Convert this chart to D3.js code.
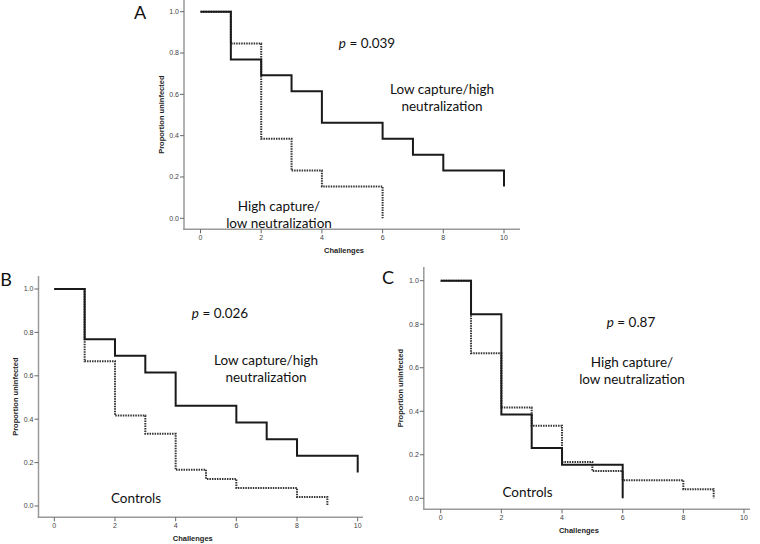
<!DOCTYPE html>
<html>
<head>
<meta charset="utf-8">
<script src="https://cdn.jsdelivr.net/npm/d3@7"></script>
<style>
  html, body { margin: 0; padding: 0; background: #fff; }
  svg { display: block; }
</style>
</head>
<body>
<svg id="chart" width="760" height="544"></svg>
<script>
// ---- data ----
const xTicks = [0, 2, 4, 6, 8, 10];
const yTicks = [0, 0.2, 0.4, 0.6, 0.8, 1.0];
const lowHighTimes = [0, 1, 2, 3, 4, 6, 7, 8, 10];
const lowHighSurv  = [1, 0.769, 0.692, 0.615, 0.462, 0.385, 0.308, 0.231, 0.154];
const highLowTimes = [0, 1, 2, 3, 4, 6];
const highLowSurv  = [1, 0.846, 0.385, 0.231, 0.154, 0];
const controlTimes = [0, 1, 2, 3, 4, 5, 6, 8, 9];
const controlSurv  = [1, 0.667, 0.417, 0.333, 0.167, 0.125, 0.083, 0.042, 0];
const panelLetters = ["A", "B", "C"];
const pValues = ["0.039", "0.026", "0.87"];
const xTitle = "Challenges";
const yTitle = "Proportion uninfected";

const zip = (t, s) => t.map((x, i) => ({x, y: s[i]}));

const panels = [
  { letter: panelLetters[0], p: pValues[0],
    axX: 184, axY: 229.3, x0: 200.5, x1: 504, y1: 11.7, y0: 218.3, top: 0, right: 520,
    letterPos: [140, 18.5],
    series: [
      { data: zip(highLowTimes, highLowSurv), dotted: true },
      { data: zip(lowHighTimes, lowHighSurv), dotted: false }
    ],
    pPos: [367, 48],
    labels: [
      { lines: ["Low capture/high", "neutralization"], x: 442, y: 94 },
      { lines: ["High capture/", "low neutralization"], x: 279, y: 211 }
    ] },
  { letter: panelLetters[1], p: pValues[1],
    axX: 38.5, axY: 517.3, x0: 54.3, x1: 357.7, y1: 289, y0: 506, top: 276, right: 363,
    letterPos: [6, 286],
    series: [
      { data: zip(controlTimes, controlSurv), dotted: true },
      { data: zip(lowHighTimes, lowHighSurv), dotted: false }
    ],
    pPos: [220, 318],
    labels: [
      { lines: ["Low capture/high", "neutralization"], x: 266, y: 365 },
      { lines: ["Controls"], x: 136, y: 503 }
    ] },
  { letter: panelLetters[2], p: pValues[2],
    axX: 423.8, axY: 509.3, x0: 440.7, x1: 744, y1: 280.7, y0: 498.3, top: 267, right: 750,
    letterPos: [388, 284],
    series: [
      { data: zip(controlTimes, controlSurv), dotted: true },
      { data: zip(highLowTimes, highLowSurv), dotted: false }
    ],
    pPos: [631, 327],
    labels: [
      { lines: ["High capture/", "low neutralization"], x: 632, y: 367 },
      { lines: ["Controls"], x: 527.5, y: 497 }
    ] }
];

const svg = d3.select("#chart");
const axisColor = "#9a9a9a";
const annFont = "Lato, 'Open Sans', sans-serif";
const smallFont = "'Liberation Sans', Arial, sans-serif";

panels.forEach(P => {
  const g = svg.append("g");
  const x = d3.scaleLinear().domain([0, 10]).range([P.x0, P.x1]);
  const y = d3.scaleLinear().domain([0, 1]).range([P.y0, P.y1]);

  // axes lines
  g.append("line").attr("x1", P.axX).attr("x2", P.axX).attr("y1", P.top).attr("y2", P.axY + 0.75)
    .attr("stroke", axisColor).attr("stroke-width", 1.5);
  g.append("line").attr("x1", P.axX - 0.75).attr("x2", P.right).attr("y1", P.axY).attr("y2", P.axY)
    .attr("stroke", axisColor).attr("stroke-width", 1.5);

  // y ticks
  yTicks.forEach(t => {
    g.append("line").attr("x1", P.axX - 4).attr("x2", P.axX).attr("y1", y(t)).attr("y2", y(t))
      .attr("stroke", "#666").attr("stroke-width", 1);
    g.append("text").attr("x", P.axX - 5).attr("y", y(t)).attr("dy", "0.35em")
      .attr("text-anchor", "end").attr("font-family", smallFont).attr("font-size", 7)
      .attr("fill", "#444").text(d3.format(".1f")(t));
  });
  // x ticks
  xTicks.forEach(t => {
    g.append("line").attr("x1", x(t)).attr("x2", x(t)).attr("y1", P.axY).attr("y2", P.axY + 4)
      .attr("stroke", "#666").attr("stroke-width", 1);
    g.append("text").attr("x", x(t)).attr("y", P.axY + 8).attr("dy", "0.35em")
      .attr("text-anchor", "middle").attr("font-family", smallFont).attr("font-size", 7)
      .attr("fill", "#444").text(t);
  });

  // axis titles
  g.append("text").attr("x", (P.axX + P.right) / 2 - 8).attr("y", P.axY + 21).attr("dy", "0.35em")
    .attr("text-anchor", "middle").attr("font-family", smallFont).attr("font-size", 7.5)
    .attr("font-weight", "bold").attr("fill", "#222").text(xTitle);
  g.append("text")
    .attr("transform", `translate(${P.axX - 23},${(P.top + P.axY) / 2}) rotate(-90)`)
    .attr("dy", "0.35em").attr("text-anchor", "middle").attr("font-family", smallFont)
    .attr("font-size", 7.5).attr("font-weight", "bold").attr("fill", "#222").text(yTitle);

  // step lines
  const line = d3.line().x(d => x(d.x)).y(d => y(d.y)).curve(d3.curveStepAfter);
  P.series.forEach(s => {
    g.append("path").attr("d", line(s.data)).attr("fill", "none")
      .attr("stroke", s.dotted ? "#333" : "#1a1a1a")
      .attr("stroke-width", 2)
      .attr("stroke-dasharray", s.dotted ? "1.5,1" : null);
  });

  // panel letter
  g.append("text").attr("x", P.letterPos[0]).attr("y", P.letterPos[1])
    .attr("text-anchor", "middle").attr("font-family", annFont).attr("font-size", 18)
    .attr("fill", "#111").text(P.letter);

  // p value
  const pt = g.append("text").attr("x", P.pPos[0]).attr("y", P.pPos[1]).attr("text-anchor", "middle")
    .attr("font-family", annFont).attr("font-size", 13.5).attr("fill", "#111");
  pt.append("tspan").attr("font-style", "italic").text("p");
  pt.append("tspan").text(" = " + P.p);

  // labels
  P.labels.forEach(L => {
    L.lines.forEach((ln, i) => {
      g.append("text").attr("x", L.x).attr("y", L.y + i * 16.5).attr("text-anchor", "middle")
        .attr("font-family", annFont).attr("font-size", 13.5).attr("fill", "#111").text(ln);
    });
  });
});
</script>
</body>
</html>
